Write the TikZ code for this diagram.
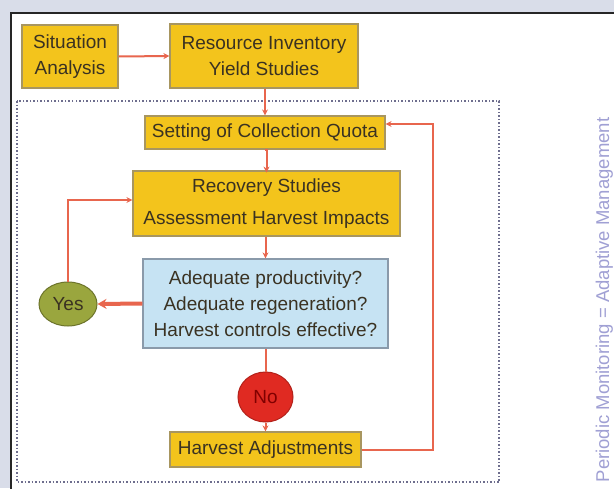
\documentclass[tikz,border=0pt]{standalone}
\usepackage{fontspec}
\setmainfont{Liberation Sans}
\usetikzlibrary{shapes.geometric,arrows.meta}
\definecolor{bgout}{HTML}{D9DDE9}
\definecolor{ybox}{HTML}{F3C41C}
\definecolor{yedge}{HTML}{A89660}
\definecolor{bbox}{HTML}{C6E3F3}
\definecolor{bedge}{HTML}{8A9AAA}
\definecolor{olive}{HTML}{9AA63E}
\definecolor{redno}{HTML}{E02A22}
\definecolor{arr}{HTML}{E8664E}
\definecolor{txt}{HTML}{3A3222}
\definecolor{dotc}{HTML}{6E6E8E}
\definecolor{vtxt}{HTML}{A0A0D4}
\begin{document}
\begin{tikzpicture}[x=1pt,y=-1pt,
  every node/.style={font=\fontsize{19}{26}\selectfont, text=txt, align=center, inner sep=0pt},
  ybox/.style={draw=yedge, line width=1.2pt, fill=ybox, minimum width=#1},
  qbox/.style={draw=bedge, line width=1.2pt, fill=bbox},
  oval/.style={ellipse, line width=1pt},
  conn/.style={draw=arr, line width=2pt, -{Stealth[length=6pt,width=6pt]}},
  line/.style={draw=arr, line width=2pt}
]
\useasboundingbox (0,0) rectangle (614,488);
\clip (0,0) rectangle (614,488);
\fill[bgout] (0,0) rectangle (614,488);
\fill[white] (11,13) rectangle (620,495);
\draw[black!85, line width=2pt] (11,495) -- (11,13) -- (620,13);
\draw[dotc, line width=1.5pt, dotted] (17,101) rectangle (499,482);
\node[rotate=90, anchor=base, text=vtxt, font=\fontsize{18.5}{22}\selectfont] (vt) at (609,300) {Periodic Monitoring = Adaptive Management};

\node[ybox=96pt, minimum height=63pt] (sit) at (70,56.5) {Situation\\Analysis};
\node[ybox=188pt, minimum height=64pt] (res) at (264,56) {Resource Inventory\\Yield Studies};
\node[ybox=240pt, minimum height=33pt] (set) at (265,132.5) {Setting of Collection Quota};
\node[ybox=267pt, minimum height=65pt, font=\fontsize{19}{32}\selectfont] (rec) at (266.5,203.5) {Recovery Studies\\Assessment Harvest Impacts};
\node[qbox, minimum width=245pt, minimum height=89pt] (q) at (265.5,303.5) {Adequate productivity?\\Adequate regeneration?\\Harvest controls effective?};
\node[oval, fill=olive, draw=olive!70!black, minimum width=58pt, minimum height=44pt] (yes) at (68,304) {Yes};
\node[oval, fill=redno, draw=redno!80!black, minimum width=55pt, minimum height=50pt, text=red!50!black] (no) at (265.5,397) {No};
\node[ybox=191pt, minimum height=35pt] (harv) at (265.5,449.5) {Harvest Adjustments};

\coordinate (c1) at (433,449.5);
\coordinate (c2) at (433,124);
\coordinate (c3) at (68,200);

\draw[conn] (sit.east) -- (res.west);
\draw[conn] (res.south -| set.north) -- (set.north);
\draw[conn] (set.south) -- (rec.north |- set.south) -- ++(0,23);
\draw[conn] (rec.south -| q.north) -- (q.north);
\draw[draw=arr, line width=4pt, -{Stealth[length=9pt,width=10pt]}] (q.west) -- (yes.east);
\draw[conn] (yes.north) -- (c3) -- (c3 -| rec.west);
\draw[line] (q.south) -- (no.north);
\draw[conn] (no.south) -- (harv.north);
\draw[conn] (harv.east) -- (c1) -- (c2) -- (c2 -| set.east);
\end{tikzpicture}
\end{document}
